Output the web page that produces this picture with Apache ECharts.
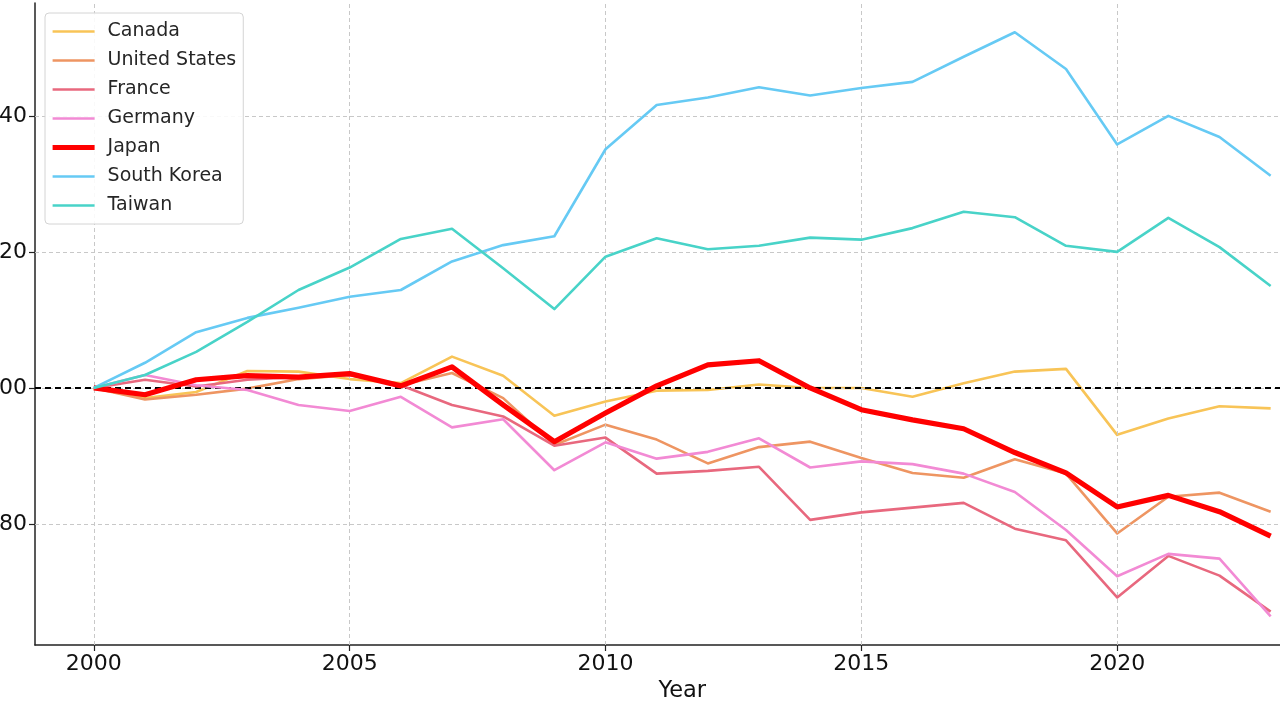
<!DOCTYPE html>
<html>
<head>
<meta charset="utf-8">
<script src="https://cdn.jsdelivr.net/npm/echarts@6/dist/echarts.min.js"></script>
<style>html,body{margin:0;padding:0;background:#fff;}#c{width:1280px;height:720px;}</style>
</head>
<body>
<div id="c"></div>
<script>
const years = [2000,2001,2002,2003,2004,2005,2006,2007,2008,2009,2010,2011,2012,2013,2014,2015,2016,2017,2018,2019,2020,2021,2022,2023];
const canada = [100,98.5,99.4,102.5,102.4,101.3,100.7,104.6,101.8,95.9,98.0,99.6,99.7,100.5,100.0,100.0,98.7,100.7,102.4,102.8,93.1,95.5,97.3,97.0];
const unitedStates = [100,98.3,99.0,99.9,101.3,101.9,100.4,102.2,98.5,91.6,94.6,92.4,88.9,91.3,92.1,89.7,87.5,86.8,89.5,87.4,78.6,84.0,84.6,81.8];
const france = [100,101.2,100.2,101.2,101.6,101.9,100.4,97.5,95.8,91.5,92.7,87.4,87.8,88.4,80.6,81.7,82.4,83.1,79.3,77.6,69.2,75.3,72.4,67.1];
const germany = [100,101.9,100.4,99.7,97.5,96.6,98.7,94.2,95.4,87.9,92.0,89.6,90.6,92.6,88.3,89.2,88.8,87.4,84.7,79.1,72.3,75.6,74.9,66.4];
const japan = [100,99.0,101.2,101.8,101.6,102.1,100.3,103.1,97.5,92.1,96.3,100.3,103.4,104.0,100.0,96.8,95.3,94.0,90.5,87.5,82.5,84.2,81.8,78.2];
const southKorea = [100,103.7,108.2,110.3,111.8,113.4,114.4,118.6,121.0,122.3,135.1,141.6,142.7,144.2,143.0,144.1,145.0,148.7,152.3,146.9,135.8,140.0,136.9,131.2];
const taiwan = [100,101.9,105.3,109.7,114.4,117.7,121.9,123.4,117.6,111.6,119.3,122.0,120.4,120.9,122.1,121.8,123.5,125.9,125.1,120.9,120.0,125.0,120.7,115.0];
const xTicks = [2000,2005,2010,2015,2020];
const yTicks = [80,100,120,140];
const baseline = 100;

const seriesDefs = [
  {name:'Canada', data:canada, color:'#F8C457', width:2.6},
  {name:'United States', data:unitedStates, color:'#EE9562', width:2.6},
  {name:'France', data:france, color:'#E8687E', width:2.6},
  {name:'Germany', data:germany, color:'#F28AD4', width:2.6},
  {name:'Japan', data:japan, color:'#FF0000', width:5.2},
  {name:'South Korea', data:southKorea, color:'#66CAF4', width:2.6},
  {name:'Taiwan', data:taiwan, color:'#48D3C8', width:2.6}
];

const font = 'DejaVu Sans';
const chart = echarts.init(document.getElementById('c'), null, {renderer:'canvas'});

const series = seriesDefs.map((s, i) => ({
  name: s.name,
  type: 'line',
  data: years.map((y, k) => [y, s.data[k]]),
  symbol: 'none',
  z: 3 + i,
  lineStyle: {color: s.color, width: s.width, join: 'round', cap: 'butt'},
  itemStyle: {color: s.color},
  emphasis: {disabled: true}
}));

series.unshift({
  name: '_grid',
  type: 'line',
  data: [],
  z: 1,
  silent: true,
  markLine: {
    silent: true,
    symbol: 'none',
    label: {show: false},
    lineStyle: {color: '#c8c8c8', type: [4, 3], width: 1},
    data: xTicks.map(v => ({xAxis: v})).concat(yTicks.map(v => ({yAxis: v})))
  }
});

series.push({
  name: '_base',
  type: 'line',
  data: [],
  z: 20,
  silent: true,
  markLine: {
    silent: true,
    symbol: 'none',
    label: {show: false},
    lineStyle: {color: '#000', type: [6, 4], width: 2},
    data: [{yAxis: baseline}]
  }
});

chart.setOption({
  animation: false,
  backgroundColor: '#fff',
  grid: {left: 35, right: -49.5, top: 3, bottom: 75, containLabel: false, outerBoundsMode: 'none'},
  legend: {
    orient: 'vertical',
    left: 45, top: 13,
    z: 50,
    data: seriesDefs.map(s => ({name: s.name, lineStyle: {color: s.color, width: s.width, type: 'solid', opacity: 1}})),
    itemWidth: 42, itemHeight: 14, itemGap: 10,
    padding: [9, 7, 9, 5],
    itemStyle: {opacity: 0},
    backgroundColor: 'rgba(255,255,255,0.88)',
    borderColor: '#d4d4d4', borderWidth: 1, borderRadius: 4,
    textStyle: {fontSize: 19, color: '#262626', fontFamily: font, padding: [0, 0, 0, 8]},
    selectedMode: false
  },
  xAxis: {
    type: 'value',
    min: 1998.85, max: 2024.15,
    name: 'Year', nameLocation: 'middle', nameGap: 35,
    nameTextStyle: {fontSize: 22.5, color: '#111', fontFamily: font},
    axisLine: {show: true, lineStyle: {color: '#222', width: 1.5}},
    axisTick: {show: true, length: 6, inside: false, customValues: xTicks, lineStyle: {color: '#222', width: 1.2}},
    axisLabel: {customValues: xTicks, fontSize: 22, color: '#111', fontFamily: font, margin: 8, formatter: v => String(v)},
    splitLine: {show: false}
  },
  yAxis: {
    type: 'value',
    min: 62.2, max: 156.6,
    axisLine: {show: true, lineStyle: {color: '#222', width: 1.5}},
    axisTick: {show: true, length: 6, inside: false, customValues: yTicks, lineStyle: {color: '#222', width: 1.2}},
    axisLabel: {customValues: yTicks, fontSize: 22, color: '#111', fontFamily: font, margin: 8, formatter: v => String(v)},
    splitLine: {show: false}
  },
  series: series
});
</script>
</body>
</html>
